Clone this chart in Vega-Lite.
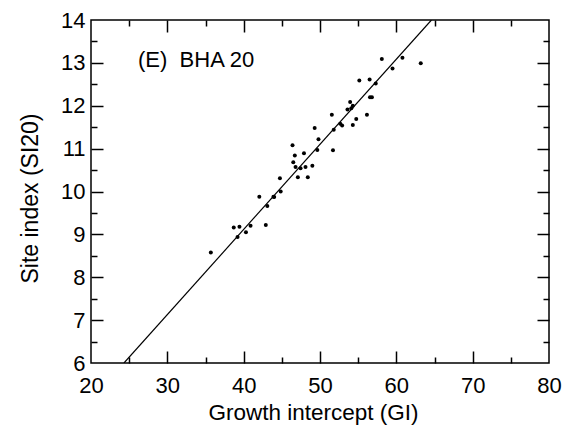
{
  "$schema": "https://vega.github.io/schema/vega-lite/v6.json",
  "width": 458,
  "height": 343,
  "autosize": "none",
  "padding": {"left": 91, "top": 20, "right": 28, "bottom": 67},
  "config": {
    "font": "Liberation Sans",
    "view": {"stroke": "black", "strokeWidth": 1.5},
    "axis": {"grid": false, "tickColor": "black", "tickWidth": 1.5, "labelColor": "black", "titleColor": "black", "titleFontWeight": "normal", "labelFont": "Liberation Sans", "titleFont": "Liberation Sans"}
  },
  "datasets": {
    "pts": [
      {"gi": 35.7, "si": 8.58}, {"gi": 38.7, "si": 9.16}, {"gi": 39.45, "si": 9.18}, {"gi": 39.2, "si": 8.94},
      {"gi": 40.3, "si": 9.05}, {"gi": 40.9, "si": 9.2}, {"gi": 42.05, "si": 9.88}, {"gi": 42.9, "si": 9.22},
      {"gi": 43.1, "si": 9.66}, {"gi": 43.9, "si": 9.88}, {"gi": 44.0, "si": 9.87}, {"gi": 44.75, "si": 10.31},
      {"gi": 44.85, "si": 10.0}, {"gi": 46.4, "si": 11.08}, {"gi": 46.5, "si": 10.68}, {"gi": 46.7, "si": 10.84},
      {"gi": 46.8, "si": 10.57}, {"gi": 47.1, "si": 10.33}, {"gi": 47.45, "si": 10.54}, {"gi": 47.9, "si": 10.89},
      {"gi": 48.1, "si": 10.57}, {"gi": 48.4, "si": 10.33}, {"gi": 49.0, "si": 10.6}, {"gi": 49.3, "si": 11.48},
      {"gi": 49.65, "si": 10.97}, {"gi": 49.8, "si": 11.22}, {"gi": 51.55, "si": 11.79}, {"gi": 51.7, "si": 10.96},
      {"gi": 51.8, "si": 11.44}, {"gi": 52.65, "si": 11.58}, {"gi": 52.9, "si": 11.54}, {"gi": 53.6, "si": 11.91},
      {"gi": 53.95, "si": 12.09}, {"gi": 54.1, "si": 11.94}, {"gi": 54.3, "si": 12.0}, {"gi": 54.3, "si": 11.55},
      {"gi": 54.75, "si": 11.69}, {"gi": 55.15, "si": 12.59}, {"gi": 56.15, "si": 11.79}, {"gi": 56.5, "si": 12.61},
      {"gi": 56.55, "si": 12.2}, {"gi": 56.8, "si": 12.2}, {"gi": 57.3, "si": 12.52}, {"gi": 58.1, "si": 13.09},
      {"gi": 59.5, "si": 12.87}, {"gi": 60.8, "si": 13.12}, {"gi": 63.2, "si": 12.99}
    ]
  },
  "resolve": {"axis": {"x": "independent", "y": "independent"}},
  "layer": [
    {
      "data": {"name": "pts"},
      "mark": {"type": "point", "filled": true, "size": 16, "color": "black", "opacity": 1},
      "encoding": {
        "x": {"field": "gi", "type": "quantitative", "scale": {"domain": [20, 80], "nice": false, "zero": false},
          "axis": {"orient": "bottom", "values": [20, 30, 40, 50, 60, 70, 80], "ticks": false, "domain": false, "labelFontSize": 22, "labelPadding": 12, "labelFlush": false, "title": "Growth intercept (GI)", "titleFontSize": 22.5, "titlePadding": 5, "titleX": 222}},
        "y": {"field": "si", "type": "quantitative", "scale": {"domain": [6, 14], "nice": false, "zero": false},
          "axis": {"orient": "left", "values": [6, 7, 8, 9, 10, 11, 12, 13, 14], "ticks": false, "domain": false, "labelFontSize": 22, "labelPadding": 6, "labelFlush": false, "title": "Site index (SI20)", "titleFontSize": 23, "titlePadding": 18, "titleY": 178}}
      }
    },
    {
      "data": {"values": [{"gi": 24.32, "si": 6}, {"gi": 64.6, "si": 14}]},
      "mark": {"type": "line", "color": "black", "strokeWidth": 1.2, "clip": true},
      "encoding": {
        "x": {"field": "gi", "type": "quantitative", "scale": {"domain": [20, 80], "nice": false, "zero": false},
          "axis": {"orient": "bottom", "values": [30, 40, 50, 60, 70], "labels": false, "domain": false, "tickSize": 12, "offset": -12, "title": null}},
        "y": {"field": "si", "type": "quantitative", "scale": {"domain": [6, 14], "nice": false, "zero": false},
          "axis": {"orient": "left", "values": [7, 8, 9, 10, 11, 12, 13], "labels": false, "domain": false, "tickSize": 12, "offset": -12, "title": null}}
      }
    },
    {
      "data": {"values": [{"gi": 26.16, "si": 12.9, "label": "(E)\u00a0 BHA 20"}]},
      "mark": {"type": "text", "align": "left", "baseline": "alphabetic", "fontSize": 22, "color": "black", "font": "Liberation Sans"},
      "encoding": {
        "x": {"field": "gi", "type": "quantitative", "scale": {"domain": [20, 80], "nice": false, "zero": false},
          "axis": {"orient": "bottom", "values": [25, 35, 45, 55, 65, 75], "labels": false, "domain": false, "tickSize": 6, "offset": -6, "title": null}},
        "y": {"field": "si", "type": "quantitative", "scale": {"domain": [6, 14], "nice": false, "zero": false},
          "axis": {"orient": "left", "values": [6.5, 7.5, 8.5, 9.5, 10.5, 11.5, 12.5, 13.5], "labels": false, "domain": false, "tickSize": 6, "offset": -6, "title": null}},
        "text": {"field": "label"}
      }
    },
    {
      "data": {"name": "pts"},
      "mark": {"type": "point", "opacity": 0},
      "encoding": {
        "x": {"field": "gi", "type": "quantitative", "scale": {"domain": [20, 80], "nice": false, "zero": false},
          "axis": {"orient": "top", "values": [30, 40, 50, 60, 70], "labels": false, "domain": false, "tickSize": 12, "offset": -12, "title": null}},
        "y": {"field": "si", "type": "quantitative", "scale": {"domain": [6, 14], "nice": false, "zero": false},
          "axis": {"orient": "right", "values": [7, 8, 9, 10, 11, 12, 13], "labels": false, "domain": false, "tickSize": 12, "offset": -12, "title": null}}
      }
    },
    {
      "data": {"name": "pts"},
      "mark": {"type": "point", "opacity": 0},
      "encoding": {
        "x": {"field": "gi", "type": "quantitative", "scale": {"domain": [20, 80], "nice": false, "zero": false},
          "axis": {"orient": "top", "values": [25, 35, 45, 55, 65, 75], "labels": false, "domain": false, "tickSize": 6, "offset": -6, "title": null}},
        "y": {"field": "si", "type": "quantitative", "scale": {"domain": [6, 14], "nice": false, "zero": false},
          "axis": {"orient": "right", "values": [6.5, 7.5, 8.5, 9.5, 10.5, 11.5, 12.5, 13.5], "labels": false, "domain": false, "tickSize": 6, "offset": -6, "title": null}}
      }
    }
  ]
}
